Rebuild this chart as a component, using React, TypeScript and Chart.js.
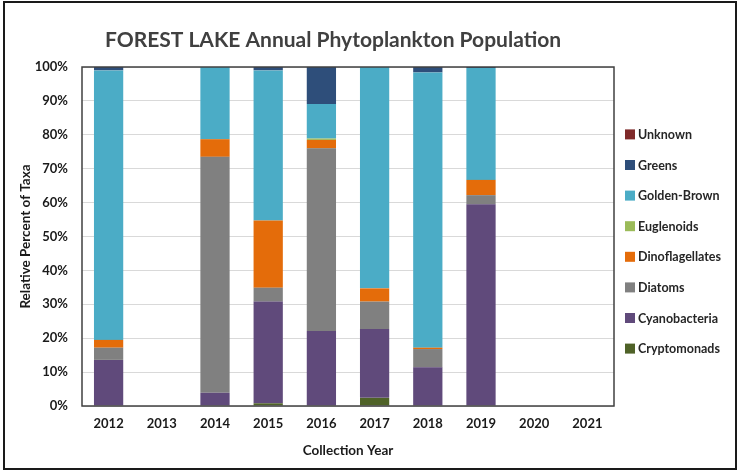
import React, { useEffect, useRef } from "react";
import { Chart, registerables } from "chart.js";

Chart.register(...registerables);

const years = ["2012", "2013", "2014", "2015", "2016", "2017", "2018", "2019", "2020", "2021"];
const cryptomonads = [0, 0, 0, 0.8, 0, 2.4, 0, 0, 0, 0];
const cyanobacteria = [13.6, 0, 3.9, 30.0, 22.1, 20.3, 11.4, 59.5, 0, 0];
const diatoms = [3.6, 0, 69.6, 4.1, 53.9, 8.1, 5.4, 2.7, 0, 0];
const dinoflagellates = [2.3, 0, 5.2, 19.8, 2.5, 3.9, 0.4, 4.5, 0, 0];
const euglenoids = [0, 0, 0, 0, 0.4, 0, 0, 0, 0, 0];
const goldenBrown = [79.5, 0, 21.3, 44.3, 10.2, 65.3, 81.2, 33.0, 0, 0];
const greens = [1.0, 0, 0, 1.0, 10.9, 0, 1.6, 0.3, 0, 0];
const unknown = [0, 0, 0, 0, 0, 0, 0, 0, 0, 0];

const titleText = "FOREST LAKE Annual Phytoplankton Population";
const yTitle = "Relative Percent of Taxa";
const xTitle = "Collection Year";

const FONT = "Lato, 'Open Sans', sans-serif";

export default function App() {
  const ref = useRef<HTMLCanvasElement | null>(null);

  useEffect(() => {
    if (!ref.current) return;
    const frame = {
      id: "frame",
      afterDraw(chart: any) {
        const { ctx, chartArea } = chart;
        ctx.save();
        // plot area border
        ctx.strokeStyle = "#404040";
        ctx.lineWidth = 1.5;
        ctx.strokeRect(chartArea.left, chartArea.top, chartArea.right - chartArea.left, chartArea.bottom - chartArea.top);
        // outer frame
        ctx.strokeStyle = "#1a1a1a";
        ctx.lineWidth = 2;
        ctx.strokeRect(4, 2, 732, 467);
        // title
        ctx.fillStyle = "#404040";
        ctx.font = "bold 21px " + FONT;
        ctx.textAlign = "center";
        ctx.textBaseline = "middle";
        ctx.fillText(titleText, 333, 40);
        // legend (reverse order of datasets)
        const ds = chart.data.datasets.slice().reverse();
        const spacing = 30.6;
        const mid = (chartArea.top + chartArea.bottom) / 2 + 5;
        const y0 = mid - (spacing * (ds.length - 1)) / 2;
        const bx = chartArea.right + 11;
        ctx.font = "bold 12.5px " + FONT;
        ctx.textAlign = "left";
        ds.forEach((d: any, i: number) => {
          const y = y0 + i * spacing;
          ctx.fillStyle = d.backgroundColor;
          ctx.fillRect(bx, y - 5, 10, 10);
          ctx.fillStyle = "#262626";
          ctx.fillText(d.label, bx + 13, y + 0.5);
        });
        ctx.restore();
      },
    };
    const mk = (label: string, data: number[], color: string) => ({
      label,
      data,
      backgroundColor: color,
      borderWidth: 0,
      barPercentage: 0.55,
      categoryPercentage: 1,
    });
    const chart = new Chart(ref.current, {
      type: "bar",
      data: {
        labels: years,
        datasets: [
          mk("Cryptomonads", cryptomonads, "#4f6228"),
          mk("Cyanobacteria", cyanobacteria, "#604a7b"),
          mk("Diatoms", diatoms, "#808080"),
          mk("Dinoflagellates", dinoflagellates, "#e46c0a"),
          mk("Euglenoids", euglenoids, "#9bbb59"),
          mk("Golden-Brown", goldenBrown, "#4bacc6"),
          mk("Greens", greens, "#2e4e7a"),
          mk("Unknown", unknown, "#7f2a2a"),
        ],
      },
      options: {
        responsive: false,
        animation: false,
        devicePixelRatio: 1,
        layout: { padding: { top: 67, left: 18, right: 126, bottom: 4 } },
        plugins: {
          tooltip: { enabled: false },
          title: { display: false },
          legend: { display: false },
        },
        scales: {
          x: {
            stacked: true,
            grid: { display: false, drawTicks: false },
            border: { display: false },
            ticks: { color: "#1a1a1a", padding: 10, font: { family: FONT, size: 13, weight: "bold" } },
            title: { display: true, text: xTitle, color: "#1a1a1a", padding: { top: 6, bottom: 7 }, font: { family: FONT, size: 13.5, weight: "bold" } },
            afterFit: (s: any) => { s.height = 60; },
          },
          y: {
            stacked: true,
            min: 0,
            max: 100,
            grid: { color: "#d9d9d9", drawTicks: false, lineWidth: 1 },
            border: { display: false },
            ticks: { stepSize: 10, color: "#1a1a1a", padding: 14, callback: (v: any) => v + "%", font: { family: FONT, size: 13, weight: "bold" } },
            title: { display: true, text: yTitle, color: "#1a1a1a", padding: { top: 0, bottom: 0 }, font: { family: FONT, size: 13.5, weight: "bold" } },
            afterFit: (s: any) => { s.width = 64; },
          },
        },
      },
      plugins: [frame],
    } as any);
    return () => chart.destroy();
  }, []);

  return (
    <div style={{ position: "absolute", left: 0, top: 0, width: 740, height: 470, background: "#fff" }}>
      <canvas ref={ref} width={740} height={470} style={{ display: "block", width: 740, height: 470 }} />
    </div>
  );
}
